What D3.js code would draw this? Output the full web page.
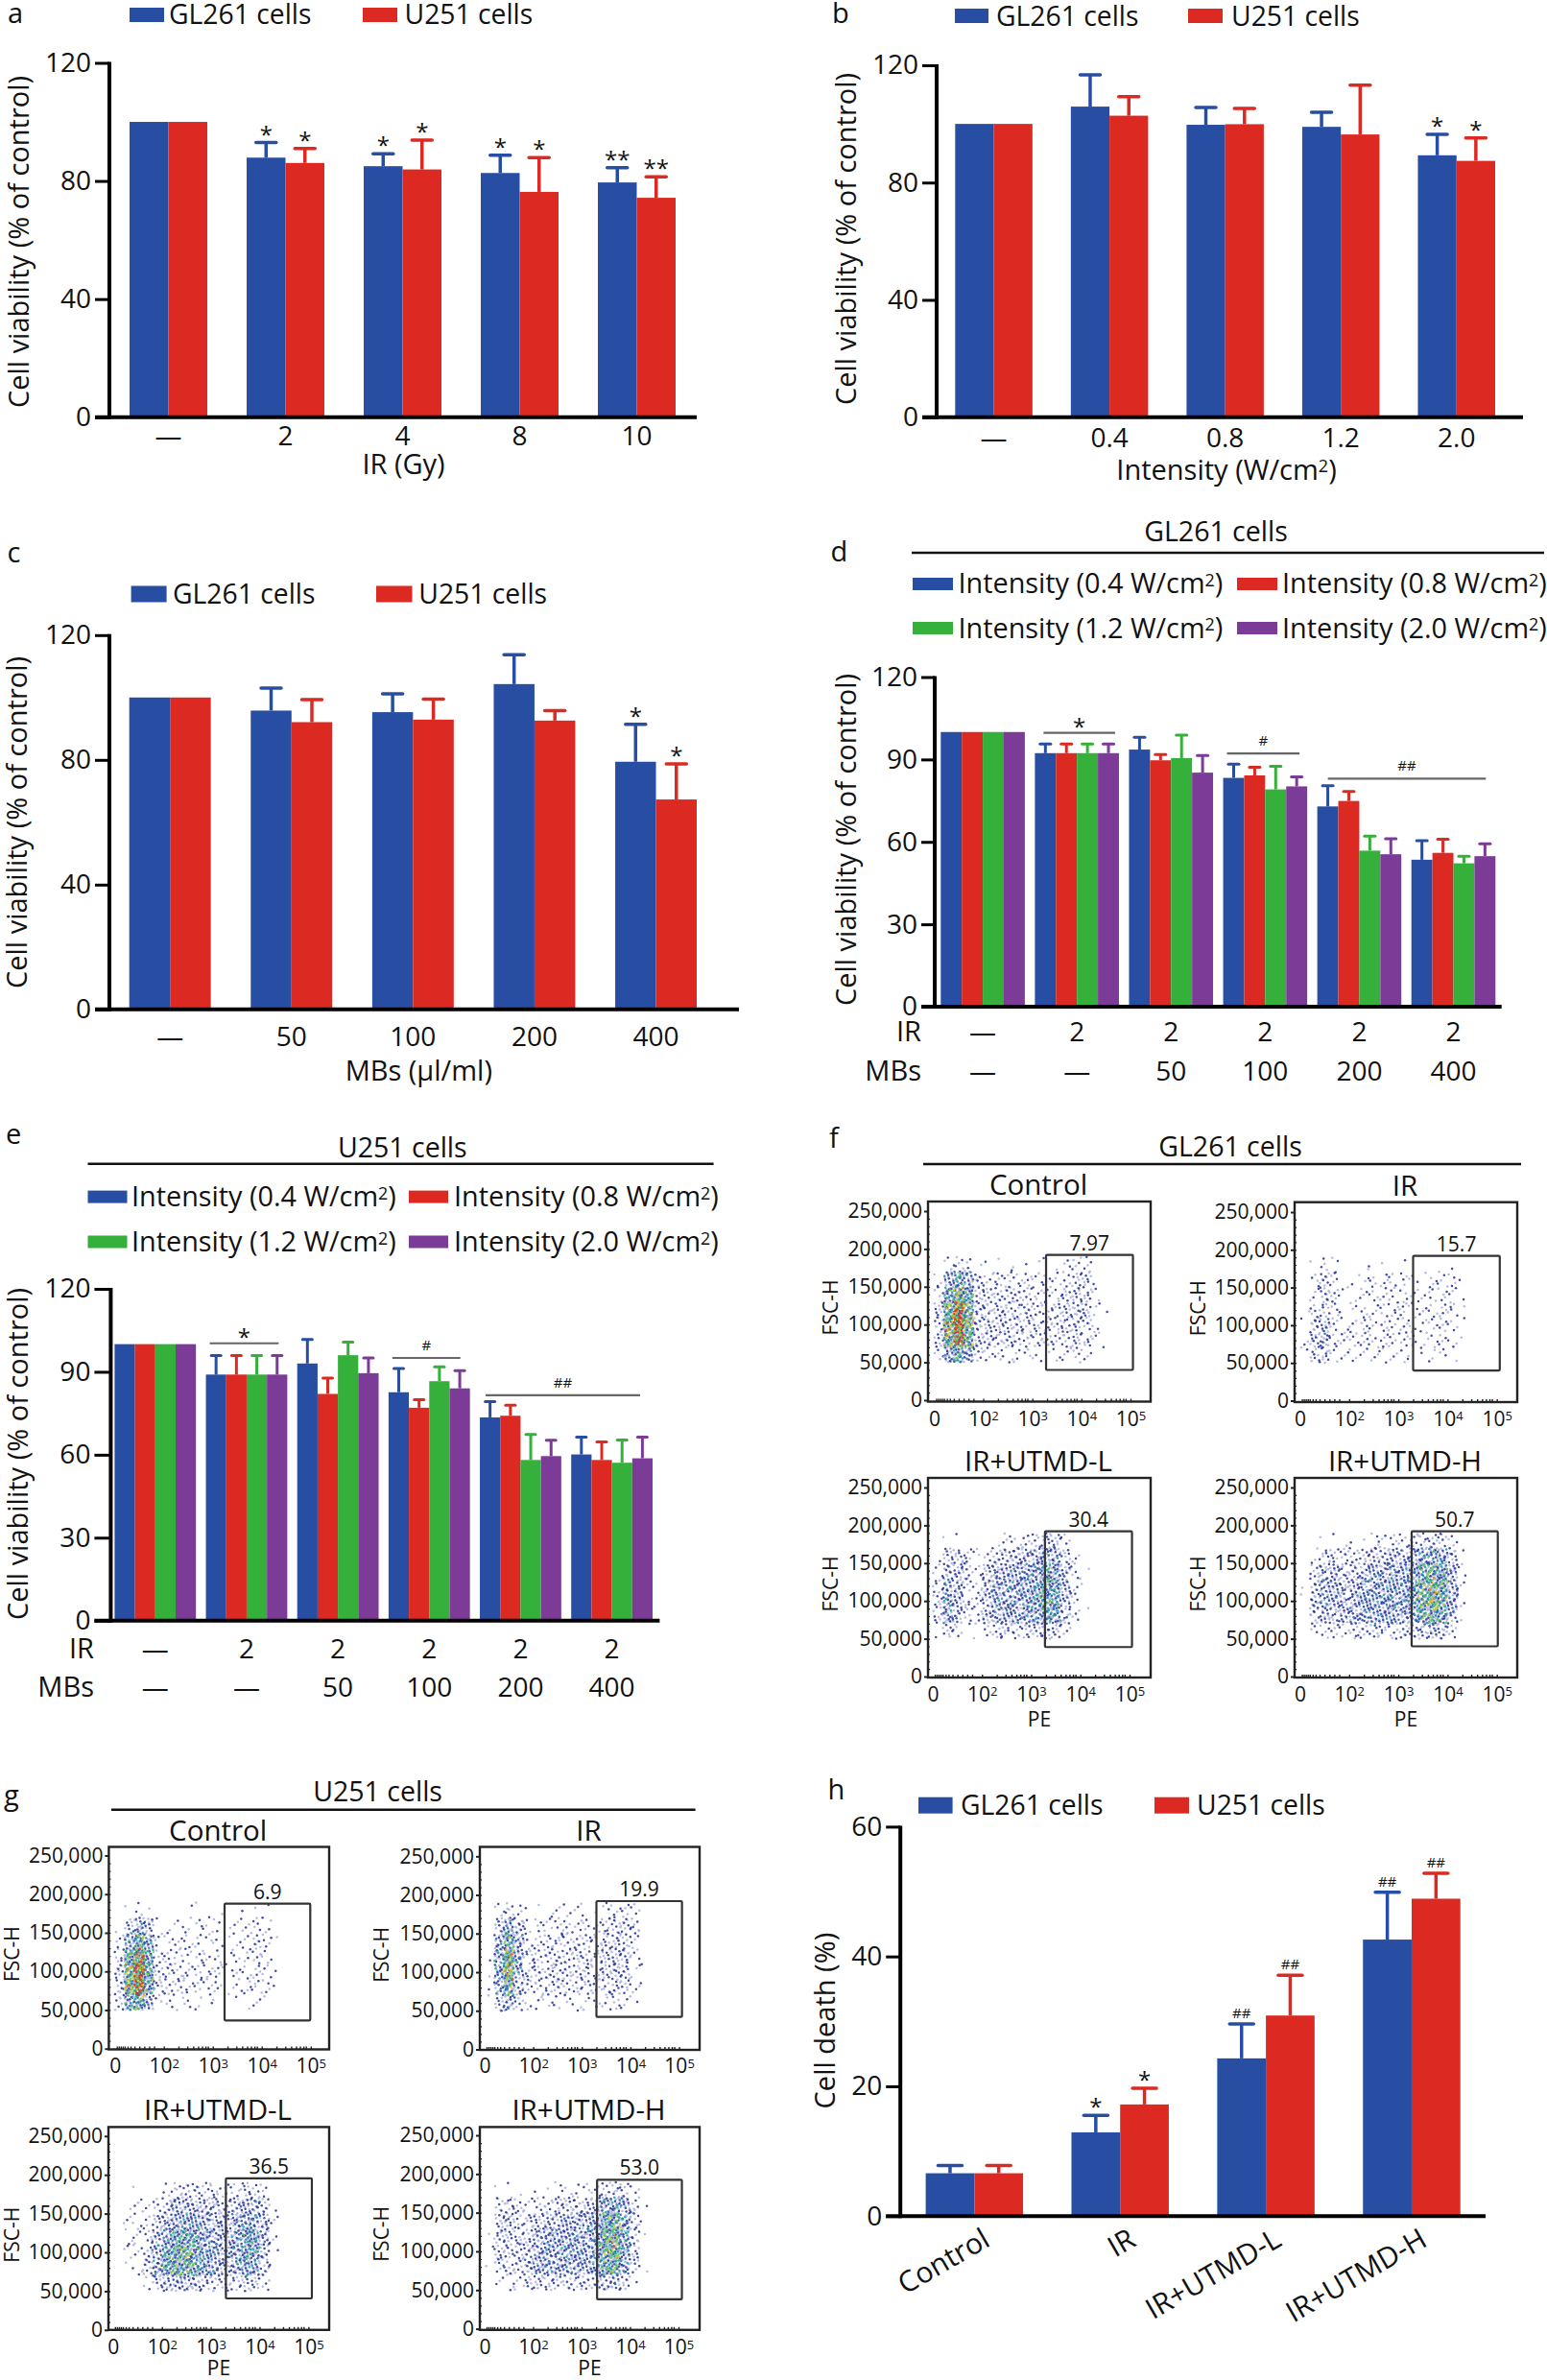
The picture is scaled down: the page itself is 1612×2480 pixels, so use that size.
<!DOCTYPE html>
<html><head><meta charset="utf-8">
<script src="https://cdnjs.cloudflare.com/ajax/libs/d3/7.8.5/d3.min.js"></script>
<style>
html,body{margin:0;padding:0;background:#fff}
svg{display:block}
text{font-family:"Open Sans","Noto Sans",sans-serif;fill:#111}
</style></head><body><svg id="c" width="1612" height="2480"></svg>
<script>
// ---------- categories and tick labels ----------
const irGy = ["—","2","4","8","10"];
const intensityTicks = ["—","0.4","0.8","1.2","2.0"];
const mbTicks = ["—","50","100","200","400"];
const comboIR = ["—","2","2","2","2","2"];
const comboMB = ["—","—","50","100","200","400"];
const deathGroups = ["Control","IR","IR+UTMD-L","IR+UTMD-H"];
const twoCells = ["GL261 cells","U251 cells"];
const intensityNames = ["0.4","1.2","0.8","2.0"];
const flowGroups = ["Control","IR","IR+UTMD-L","IR+UTMD-H"];
const gl261Gate = ["7.97","15.7","30.4","50.7"];
const u251Gate = ["6.9","19.9","36.5","53.0"];

// ---------- panel a ----------
const aGL = [100,87.9,85,82.7,79.5];
const aU = [100,86.1,83.9,76.3,74.3];
const aGLtop = [100,93,89.2,88.7,84.5];
const aUtop = [100,91,93.8,87.9,81.4];
// ---------- panel b ----------
const bGL = [100,105.9,99.7,99,89.3];
const bU = [100,102.8,99.9,96.4,87.4];
const bGLtop = [100,116.7,105.6,104,96.4];
const bUtop = [100,109.3,105.3,113.2,95.2];
// ---------- panel c ----------
const cGL = [100,95.8,95.3,104.3,79.4];
const cU = [100,92.1,92.9,92.6,67.3];
const cGLtop = [100,103,101.2,113.7,91.4];
const cUtop = [100,99.3,99.5,95.8,78.7];
// ---------- panel d ----------
const d04 = [100,92.3,93.6,83.3,72.9,53.5];
const d08 = [100,92.3,89.7,84.2,74.9,56];
const d12 = [100,92.3,90.5,79.1,56.8,52.2];
const d20 = [100,92.3,85.2,80.2,55.5,54.8];
const d04top = [100,95.6,98.1,88.3,80.4,60.4];
const d08top = [100,95.6,91.8,87.2,78.3,61];
const d12top = [100,95.6,98.9,87.5,62.1,54.8];
const d20top = [100,95.6,91.4,83.7,61.1,59.3];
// ---------- panel e ----------
const e04 = [100,89,93,82.6,73.5,60.1];
const e08 = [100,89,82,77,74.1,58.1];
const e12 = [100,89,96,86.6,58.1,57.1];
const e20 = [100,89,89.5,84,59.5,58.7];
const e04top = [100,95.9,101.7,91.2,79.2,66.4];
const e08top = [100,95.9,87.7,79.9,77.9,64.6];
const e12top = [100,95.9,100.7,91.8,67.3,65.3];
const e20top = [100,95.9,95,90.4,65.2,66.4];
// ---------- panel h ----------
const hGL = [6.6,12.9,24.3,42.6];
const hU = [6.6,17.2,30.9,48.9];
const hGLtop = [7.8,15.5,29.6,49.9];
const hUtop = [7.8,19.7,37.1,52.8];

// ---------- flow cytometry: dots counted per cell, read by eye ----------
// columns: log10(PE) bins of 0.2 from the "0" tick (=1) upward; rows: FSC-H bins of 20,000, 190k down to 50k
const pePerBin = 0.2, fscBins = [170000,150000,130000,110000,90000,70000,50000], fscStep = 20000;
const fControl = [
[0,2,5,3,1,1,1,1,1,1,1,1,1,2,4,4,0,0],
[2,14,24,16,5,4,5,4,4,4,3,3,3,4,6,7,1,0],
[4,24,40,26,7,6,6,6,6,5,4,4,4,6,8,7,2,0],
[7,36,58,34,8,7,7,7,6,6,5,5,5,7,8,7,2,1],
[8,42,66,38,9,8,8,8,7,6,5,6,5,7,8,6,2,0],
[7,38,56,32,8,8,7,7,6,5,5,5,4,6,7,5,2,1],
[3,18,26,16,5,4,3,3,3,2,2,1,2,3,4,3,0,0]];
const fIR = [
[0,1,3,2,0,0,1,1,1,0,1,0,0,0,1,1,0,0],
[0,3,7,4,1,1,2,3,3,3,3,2,1,3,3,3,1,0],
[0,3,8,5,1,1,3,3,3,4,3,2,2,3,4,3,1,0],
[1,4,7,3,1,2,3,3,3,4,4,3,2,3,4,4,1,0],
[1,8,11,4,2,3,4,3,3,4,4,3,2,3,4,3,1,0],
[2,9,12,4,3,4,4,4,4,4,4,3,2,3,3,2,1,0],
[1,6,8,2,2,2,2,2,2,2,2,1,1,2,2,1,0,0]];
const fL = [
[0,1,1,0,0,0,1,3,3,4,5,8,8,3,0,0,0,0],
[1,7,8,5,2,3,6,9,10,11,13,16,14,6,2,0,0,0],
[3,10,10,6,3,8,12,13,14,15,18,22,18,9,4,1,0,0],
[5,14,11,5,3,9,14,15,15,17,20,26,22,11,3,1,0,0],
[6,18,12,5,4,10,15,16,16,18,22,28,24,11,3,1,0,0],
[5,16,10,4,4,9,14,14,14,16,18,24,20,9,3,0,0,0],
[1,6,4,1,1,3,5,6,6,6,7,9,7,3,0,0,0,0]];
const fH = [
[0,0,1,1,1,1,1,3,3,3,4,5,6,6,5,3,0,0],
[0,2,5,6,5,5,6,8,9,11,10,13,18,18,16,9,1,0],
[0,5,10,11,8,8,10,13,14,15,14,18,26,30,24,12,2,0],
[1,8,13,13,10,11,14,15,16,17,16,20,30,38,30,14,2,0],
[1,10,15,13,11,14,16,18,18,18,17,22,32,40,30,14,2,0],
[0,7,10,10,11,13,15,15,15,15,14,18,26,30,24,10,1,0],
[0,2,4,4,4,5,5,6,5,5,5,6,9,11,9,4,0,0]];
const gControl = [
[0,1,2,1,0,0,0,1,1,1,1,0,0,1,1,1,0,0],
[1,6,14,9,1,1,2,2,2,2,2,1,2,2,4,3,0,0],
[3,18,32,16,3,3,3,3,3,2,2,1,2,3,5,4,1,0],
[6,30,50,24,4,4,4,3,3,3,3,1,3,3,5,3,0,0],
[8,38,60,28,5,5,5,4,4,4,4,2,3,3,4,3,1,0],
[8,40,60,26,5,5,4,4,4,4,3,1,2,3,4,3,1,0],
[6,24,30,12,2,2,2,2,2,1,1,0,1,1,2,1,0,0]];
const gIR = [
[0,2,6,3,1,1,1,2,2,2,1,1,3,4,4,3,0,0],
[0,8,16,9,3,3,4,4,4,4,3,3,6,7,7,6,0,0],
[0,14,28,13,4,4,5,5,5,5,5,4,7,8,7,3,0,0],
[1,18,40,16,5,5,6,6,6,6,6,5,8,9,8,3,1,0],
[1,18,44,14,5,6,6,6,6,6,6,5,8,9,7,2,0,0],
[1,14,30,11,4,5,5,5,5,5,5,4,6,7,6,2,1,0],
[1,8,14,5,2,2,2,2,2,2,2,2,3,4,3,1,0,0]];
const gL = [
[0,0,1,0,0,2,5,6,5,5,5,3,4,6,5,3,0,0],
[0,1,2,2,4,8,12,12,11,10,9,7,10,13,13,8,1,0],
[0,2,3,3,7,12,16,18,16,14,11,9,14,18,18,12,2,0],
[0,2,3,4,10,18,24,26,22,18,13,11,16,22,22,12,2,0],
[0,2,3,6,14,24,30,32,26,20,15,12,16,24,22,10,1,0],
[0,1,2,7,16,26,30,30,24,18,14,11,14,20,18,8,1,0],
[0,0,0,2,6,10,12,12,10,8,6,5,6,8,7,3,0,0]];
const gH = [
[0,1,1,1,0,1,1,2,2,2,2,3,5,6,5,2,0,0],
[0,5,7,5,3,4,5,6,7,8,8,10,18,20,14,5,1,0],
[0,7,9,6,5,8,10,11,12,13,12,15,28,30,18,7,1,0],
[1,8,8,7,7,12,14,15,15,15,15,18,32,36,20,7,1,0],
[1,7,8,7,9,13,16,16,16,16,15,20,32,38,20,6,0,0],
[1,5,6,7,11,14,15,15,15,14,13,18,28,30,16,5,1,0],
[0,2,2,3,6,7,7,6,6,6,6,8,10,12,7,1,0,0]];
// gate limits as read: [log10 PE left, log10 PE right, FSC-H low, FSC-H high]
const fGates = [[3.28,5.05,40000,192000],[3.30,5.06,40000,192000],[3.28,5.05,39000,192000],[3.27,5.02,40000,192000]];
const gGates = [[3.24,4.99,36500,187600],[3.30,5.06,42000,192000],[3.31,5.07,40600,195500],[3.32,5.07,38000,192600]];

// ---------- styles ----------
const BLUE="#274ea2", RED="#dc2a22", GREEN="#35b03a", PURPLE="#7c3b97", INK="#000";
const svg = d3.select("#c");
const FONT = 29, TICK = 28;

function txt(x,y,s,o={}){
  const t = svg.append("text").attr("x",x).attr("y",y)
    .attr("font-size",o.size||FONT).attr("text-anchor",o.anchor||"start");
  if(o.rotate!==undefined) t.attr("transform",`rotate(${o.rotate} ${x} ${y})`);
  rich(t,s);
  return t;
}
// "^" marks one superscript character
function rich(t,s){
  const m = s.match(/^(.*)\^(.)(.*)$/);
  if(!m){ t.text(s); return; }
  t.text(null);
  t.append("tspan").text(m[1]);
  t.append("tspan").attr("dy","-0.42em").attr("font-size","0.62em").text(m[2]);
  if(m[3]) t.append("tspan").attr("dy","0.26em").text(m[3]);
}

function barPanel(p){
  const idx = d3.range(p.groups.length);
  const x0 = d3.scaleBand().domain(idx).range([p.L,p.R]).paddingInner(p.pad).paddingOuter(0);
  const x1 = d3.scaleBand().domain(d3.range(p.series.length)).range([0,x0.bandwidth()]);
  const y = d3.scaleLinear().domain([0,p.max]).range([p.y0,p.yT]);
  // bars
  const g = svg.append("g");
  p.series.forEach((s,i)=>{
    g.selectAll(null).data(s.vals).enter().append("rect")
      .attr("x",(d,j)=>x0(j)+x1(i)).attr("width",x1.bandwidth())
      .attr("y",d=>y(d)).attr("height",d=>y(0)-y(d)).attr("fill",s.color);
    const cx = j=>x0(j)+x1(i)+x1.bandwidth()/2;
    const withErr = s.top.map((t,j)=>({t,v:s.vals[j],j})).filter(d=>d.t>d.v);
    g.selectAll(null).data(withErr).enter().append("line")
      .attr("x1",d=>cx(d.j)).attr("x2",d=>cx(d.j)).attr("y1",d=>y(d.v)).attr("y2",d=>y(d.t))
      .attr("stroke",s.color).attr("stroke-width",p.errW);
    g.selectAll(null).data(withErr).enter().append("line")
      .attr("x1",d=>cx(d.j)-p.cap/2).attr("x2",d=>cx(d.j)+p.cap/2).attr("y1",d=>y(d.t)).attr("y2",d=>y(d.t))
      .attr("stroke",s.color).attr("stroke-width",p.errW).attr("stroke-linecap","round");
  });
  // axes
  const ya = d3.axisLeft(y).tickValues(p.ticks).tickSize(p.tick).tickPadding(4).tickFormat(d3.format("d"));
  const yg = svg.append("g").attr("transform",`translate(${p.ax},0)`).call(ya);
  yg.attr("font-family",null);
  yg.select(".domain").attr("stroke",INK).attr("stroke-width",4).attr("d",`M0,${y(p.max)-1}V${y(0)+2}`);
  yg.selectAll(".tick line").attr("stroke",INK).attr("stroke-width",3);
  yg.selectAll("text").attr("font-size",TICK);
  svg.append("line").attr("x1",p.ax-p.tick).attr("x2",p.xEnd).attr("y1",y(0)).attr("y2",y(0))
    .attr("stroke",INK).attr("stroke-width",4);
  // category labels
  (p.labelRows||[{labels:p.groups,base:p.tickBase}]).forEach(r=>{
    const xa = d3.axisBottom(x0).tickSize(0).tickPadding(r.base-p.y0-0.71*TICK).tickFormat(j=>r.labels[j]);
    const xg = svg.append("g").attr("transform",`translate(0,${p.y0})`).call(xa);
    xg.attr("font-family",null);
    xg.select(".domain").remove();
    xg.selectAll("text").attr("font-size",p.rotateLabels?30:TICK);
    if(p.rotateLabels) xg.selectAll("text").attr("text-anchor","end").attr("y",0).attr("dy",0)
      .attr("transform",`translate(${p.rotateLabels[0]},${p.rotateLabels[1]}) rotate(-30)`);
    if(r.name) txt(p.nameEnd,r.base,r.name,{anchor:"end"});
  });
  // marks above error bars
  (p.marks||[]).forEach(m=>{
    const s = p.series[m.s];
    const cx = x0(m.g)+x1(m.s)+x1.bandwidth()/2;
    const isStar = m.t.includes("*");
    txt(cx, y(s.top[m.g]) + (isStar?p.starDy:-6), m.t, {anchor:"middle",size:isStar?24:15});
  });
  // significance brackets
  (p.brackets||[]).forEach(b=>{
    const a = x0(b.from)+b.in0, c = x0(b.to)+x0.bandwidth()-b.in1;
    svg.append("line").attr("x1",a).attr("x2",c).attr("y1",y(b.v)).attr("y2",y(b.v))
      .attr("stroke","#666").attr("stroke-width",2.2);
    const star = b.t==="*";
    txt((a+c)/2+(b.nudge||0), y(b.v)+(star?b.dy||2:-8), b.t, {anchor:"middle",size:star?24:15});
  });
}

function legend(items,size){
  items.forEach(it=>{
    svg.append("rect").attr("x",it.x).attr("y",it.y).attr("width",it.w).attr("height",it.h).attr("fill",it.color);
    txt(it.tx,it.ty,it.label,{size});
  });
}

// ---------- bar panels ----------
barPanel({groups:irGy,L:135,R:704,pad:.336,y0:434.7,yT:65.5,max:120,ticks:[0,40,80,120],ax:114,tick:15,xEnd:726,errW:3.5,cap:21,tickBase:464,starDy:0,
  series:[{vals:aGL,top:aGLtop,color:BLUE},{vals:aU,top:aUtop,color:RED}],
  marks:[[0,1,"*"],[1,1,"*"],[0,2,"*"],[1,2,"*"],[0,3,"*"],[1,3,"*"],[0,4,"**"],[1,4,"**"]].map(([s,g,t])=>({s,g,t}))});
barPanel({groups:intensityTicks,L:995.3,R:1558,pad:.332,y0:434.7,yT:68,max:120,ticks:[0,40,80,120],ax:976,tick:15,xEnd:1587,errW:3.5,cap:21,tickBase:466,starDy:0,
  series:[{vals:bGL,top:bGLtop,color:BLUE},{vals:bU,top:bUtop,color:RED}],
  marks:[{s:0,g:4,t:"*"},{s:1,g:4,t:"*"}]});
barPanel({groups:mbTicks,L:134.7,R:726,pad:.329,y0:1051.8,yT:661.8,max:120,ticks:[0,40,80,120],ax:114,tick:15,xEnd:770,errW:3.5,cap:21,tickBase:1090,starDy:0,
  series:[{vals:cGL,top:cGLtop,color:BLUE},{vals:cU,top:cUtop,color:RED}],
  marks:[{s:0,g:4,t:"*"},{s:1,g:4,t:"*"}]});
barPanel({groups:comboIR,L:980.3,R:1558.3,pad:.107,y0:1049,yT:705.5,max:120,ticks:[0,30,60,90,120],ax:974,tick:14,xEnd:1564.7,errW:3,cap:11,starDy:0,nameEnd:960,
  labelRows:[{labels:comboIR,base:1085,name:"IR"},{labels:comboMB,base:1126,name:"MBs"}],
  series:[{vals:d04,top:d04top,color:BLUE},{vals:d08,top:d08top,color:RED},{vals:d12,top:d12top,color:GREEN},{vals:d20,top:d20top,color:PURPLE}],
  brackets:[{from:1,to:1,in0:9,in1:4,v:99.7,t:"*"},{from:3,to:3,in0:4,in1:8,v:92.2,t:"#"},{from:4,to:5,in0:11,in1:10,v:83,t:"##"}]});
barPanel({groups:comboIR,L:119.4,R:680,pad:.109,y0:1688.7,yT:1343,max:120,ticks:[0,30,60,90,120],ax:115.4,tick:17,xEnd:687.4,errW:3,cap:10,starDy:0,nameEnd:98,
  labelRows:[{labels:comboIR,base:1728,name:"IR"},{labels:comboMB,base:1768,name:"MBs"}],
  series:[{vals:e04,top:e04top,color:BLUE},{vals:e08,top:e08top,color:RED},{vals:e12,top:e12top,color:GREEN},{vals:e20,top:e20top,color:PURPLE}],
  brackets:[{from:1,to:1,in0:4,in1:9,v:100.3,t:"*"},{from:3,to:3,in0:4,in1:10,v:95,t:"#"},{from:4,to:5,in0:6,in1:13,v:81.5,t:"##"}]});
barPanel({groups:deathGroups,L:964.6,R:1521.7,pad:.332,y0:2309.2,yT:1903.4,max:60,ticks:[0,20,40,60],ax:938.2,tick:15,xEnd:1548,errW:3.5,cap:25,tickBase:2340,starDy:0,rotateLabels:[18,30],
  series:[{vals:hGL,top:hGLtop,color:BLUE},{vals:hU,top:hUtop,color:RED}],
  marks:[{s:0,g:1,t:"*"},{s:1,g:1,t:"*"},{s:0,g:2,t:"##"},{s:1,g:2,t:"##"},{s:0,g:3,t:"##"},{s:1,g:3,t:"##"}]});

// ---------- bar panel legends ----------
function twoLegend(x1,w1,tx1,x2,w2,tx2,y,h,ty){
  legend([{x:x1,y,w:w1,h,color:BLUE,tx:tx1,ty,label:twoCells[0]},{x:x2,y,w:w2,h,color:RED,tx:tx2,ty,label:twoCells[1]}],28.3);
}
twoLegend(135,36,176,378,36,421.5,8,15,25);
twoLegend(995,35,1038,1238,36,1283,9,15,26.7);
twoLegend(136.6,37,180,392,37.5,436.3,610.5,17,628.9);
twoLegend(957,35.6,1001,1203,36,1247,1872.7,17,1891);
function fourLegend(col1,tx1,col2,tx2,w,y1,y2,h,b1,b2){
  const lab = v=>`Intensity (${v} W/cm^2)`;
  legend([
   {x:col1,y:y1,w,h,color:BLUE,tx:tx1,ty:b1,label:lab(intensityNames[0])},
   {x:col2,y:y1,w,h,color:RED,tx:tx2,ty:b1,label:lab(intensityNames[2])},
   {x:col1,y:y2,w,h,color:GREEN,tx:tx1,ty:b2,label:lab(intensityNames[1])},
   {x:col2,y:y2,w,h,color:PURPLE,tx:tx2,ty:b2,label:lab(intensityNames[3])}],28.8);
}
fourLegend(951,998.5,1289,1336,42,602,648,13,618,664.5);
fourLegend(91.5,137,426,473,41,1240.6,1287.5,13,1257,1304);

// ---------- axis titles, panel letters ----------
const Y="Cell viability (% of control)";
txt(30,252,Y,{rotate:-90,anchor:"middle"});
txt(891.7,249,Y,{rotate:-90,anchor:"middle"});
txt(28.3,857,Y,{rotate:-90,anchor:"middle"});
txt(891.7,875,Y,{rotate:-90,anchor:"middle"});
txt(29,1515,Y,{rotate:-90,anchor:"middle"});
txt(870,2105.6,"Cell death (%)",{rotate:-90,anchor:"middle"});
txt(420.5,494,"IR (Gy)",{anchor:"middle"});
txt(1278,500,"Intensity (W/cm^2)",{anchor:"middle"});
txt(436.3,1125.6,"MBs (µl/ml)",{anchor:"middle"});
[["a",8,24],["b",867,24],["c",7.6,586],["d",865.6,585],["e",6,1192],["f",864,1196],["g",4,1880.8],["h",862.4,1874.8]]
  .forEach(([l,x,y])=>txt(x,y,l));

// ---------- section headers ----------
function header(s,cx,by,x1,x2,ly){
  txt(cx,by,s,{anchor:"middle",size:28.5});
  svg.append("line").attr("x1",x1).attr("x2",x2).attr("y1",ly).attr("y2",ly).attr("stroke","#111").attr("stroke-width",2.5);
}
header("GL261 cells",1267,563.6,950,1609,576);
header("U251 cells",419.3,1205.5,91.5,743.6,1212.8);
header("GL261 cells",1282,1205,962,1585,1213);
header("U251 cells",393.6,1876.7,116,724.6,1885.7);

// ---------- flow plots ----------
const dotsPerCount = 1.3;
const heat = d3.scaleLinear().domain([0,10,18,26,38,52]).range(["#2a379a","#2a379a","#1b9fb5","#37bb4a","#e6df1f","#e62f1c"]).clamp(true);
function halton(n,b){ let f=1,r=0; while(n>0){ f/=b; r+=f*(n%b); n=Math.floor(n/b);} return r; }
function flowPlot(p){
  const x = d3.scaleLinear().domain([1,5]).range([p.x0,p.x5]);
  const y = d3.scaleLinear().domain([0,250000]).range([p.y0,p.y250]);
  // spread each cell's counted dots evenly over that cell
  const dots=[]; let n=17;
  p.cells.forEach((row,r)=>row.forEach((count,c)=>{
    const k=Math.round(count*dotsPerCount);
    for(let i=0;i<k;i++){
      n++;
      const rank=halton(n,2);
      dots.push({pe:1+(c+halton(n,3))*pePerBin, fsc:fscBins[r]+halton(n,5)*fscStep,
                 level:count*(0.12+1.1*rank*rank*rank), rank});
    }
  }));
  dots.sort((a,b)=>a.level-b.level);
  svg.append("g").selectAll("circle").data(dots).enter().append("circle")
    .attr("cx",d=>x(d.pe)).attr("cy",d=>y(d.fsc)).attr("r",1.25).attr("opacity",0.9)
    .attr("fill",d=>d.level<10&&d.rank<0.5?"#aeb3de":heat(d.level));
  // frame
  svg.append("rect").attr("x",p.fx0).attr("y",p.fy0).attr("width",p.fx1-p.fx0).attr("height",p.fy1-p.fy0)
    .attr("fill","none").attr("stroke","#222").attr("stroke-width",2.4);
  // axes
  const ya=d3.axisLeft(y).tickValues(d3.range(0,250001,50000)).tickSize(4).tickPadding(2).tickFormat(d3.format(","));
  const yg=svg.append("g").attr("transform",`translate(${p.fx0},0)`).call(ya);
  yg.attr("font-family",null); yg.select(".domain").remove();
  yg.selectAll("text").attr("font-size",21);
  yg.selectAll(".tick line").attr("stroke","#222").attr("stroke-width",2);
  const xa=d3.axisBottom(x).tickValues([1,2,3,4,5]).tickSize(0).tickPadding(p.xBase-p.fy1-15).tickFormat(d=>d===1?"0":`10^${d}`);
  const xg=svg.append("g").attr("transform",`translate(0,${p.fy1})`).call(xa);
  xg.attr("font-family",null); xg.select(".domain").remove();
  xg.selectAll("text").attr("font-size",21).each(function(){ rich(d3.select(this),d3.select(this).text()); });
  // minor ticks
  const minors=[1.04,1.08,1.12,1.16,1.2,1.26,1.32,1.4,1.5,1.6,1.7,1.8,2,2.3,2.48,2.6,2.7,2.78,2.85,2.9,3,3.3,3.48,3.6,3.7,3.78,3.85,3.9,4,4.3,4.48,4.6,4.7,4.78,4.85,4.9,5];
  const mg=svg.append("g").attr("transform",`translate(0,${p.fy1})`)
    .call(d3.axisTop(x).tickValues(minors).tickSize(3).tickFormat(""));
  mg.select(".domain").remove(); mg.selectAll(".tick line").attr("stroke","#222").attr("stroke-width",1.4);
  const my=svg.append("g").attr("transform",`translate(${p.fx0},0)`)
    .call(d3.axisRight(y).tickValues(d3.range(10000,250000,10000)).tickSize(2).tickFormat(""));
  my.select(".domain").remove(); my.selectAll(".tick line").attr("stroke","#222").attr("stroke-width",1.2);
  // gate
  const [a,b,lo,hi]=p.gate;
  svg.append("rect").attr("x",x(a)).attr("y",y(hi)).attr("width",x(b)-x(a)).attr("height",y(lo)-y(hi))
    .attr("fill","none").attr("stroke","#333").attr("stroke-width",2.2).attr("rx",1);
  txt((x(a)+x(b))/2,y(hi)-5,p.gateText,{anchor:"middle",size:21});
  // titles
  txt((p.fx0+p.fx1)/2+p.titleNudge,p.fy0-7,p.title,{anchor:"middle",size:29.5});
  txt(p.fsc,(p.y0+p.y250)/2+2,"FSC-H",{rotate:-90,anchor:"middle",size:21});
  if(p.pe) txt((p.fx0+p.fx1)/2,p.pe,"PE",{anchor:"middle",size:21});
}
const fLayout=[
 {x0:973.4,x5:1178,y0:1459,y250:1262,fx0:967,fx1:1199,fy0:1252,fy1:1460.5,xBase:1485.7,fsc:873},
 {x0:1354.5,x5:1559.7,y0:1459.5,y250:1263,fx0:1349,fx1:1581,fy0:1252.7,fy1:1461,xBase:1485.7,fsc:1256},
 {x0:972,x5:1177,y0:1747,y250:1550,fx0:967,fx1:1199,fy0:1540,fy1:1748,xBase:1773,fsc:873,pe:1799},
 {x0:1354.5,x5:1559.7,y0:1747,y250:1550,fx0:1349,fx1:1581,fy0:1540,fy1:1748,xBase:1773,fsc:1256,pe:1799}];
[fControl,fIR,fL,fH].forEach((cells,i)=>flowPlot({...fLayout[i],cells,gate:fGates[i],gateText:gl261Gate[i],title:flowGroups[i],titleNudge:-1}));
const gLayout=[
 {x0:119.7,x5:323.8,y0:2134.7,y250:1933.5,fx0:113.4,fx1:343,fy0:1924.5,fy1:2135.5,xBase:2160.4,fsc:20.4},
 {x0:505,x5:707.6,y0:2135.5,y250:1934.3,fx0:500,fx1:729,fy0:1924.5,fy1:2136,xBase:2160.4,fsc:404.7},
 {x0:117.8,x5:321.4,y0:2427.8,y250:2225.8,fx0:113,fx1:343,fy0:2216.4,fy1:2427.8,xBase:2453.5,fsc:20.4,pe:2474.7},
 {x0:505,x5:707,y0:2426.6,y250:2225,fx0:500,fx1:729,fy0:2216.4,fy1:2427.8,xBase:2453.5,fsc:404.7,pe:2474.7}];
[gControl,gIR,gL,gH].forEach((cells,i)=>flowPlot({...gLayout[i],cells,gate:gGates[i],gateText:u251Gate[i],title:flowGroups[i],titleNudge:-1}));
</script></body></html>
